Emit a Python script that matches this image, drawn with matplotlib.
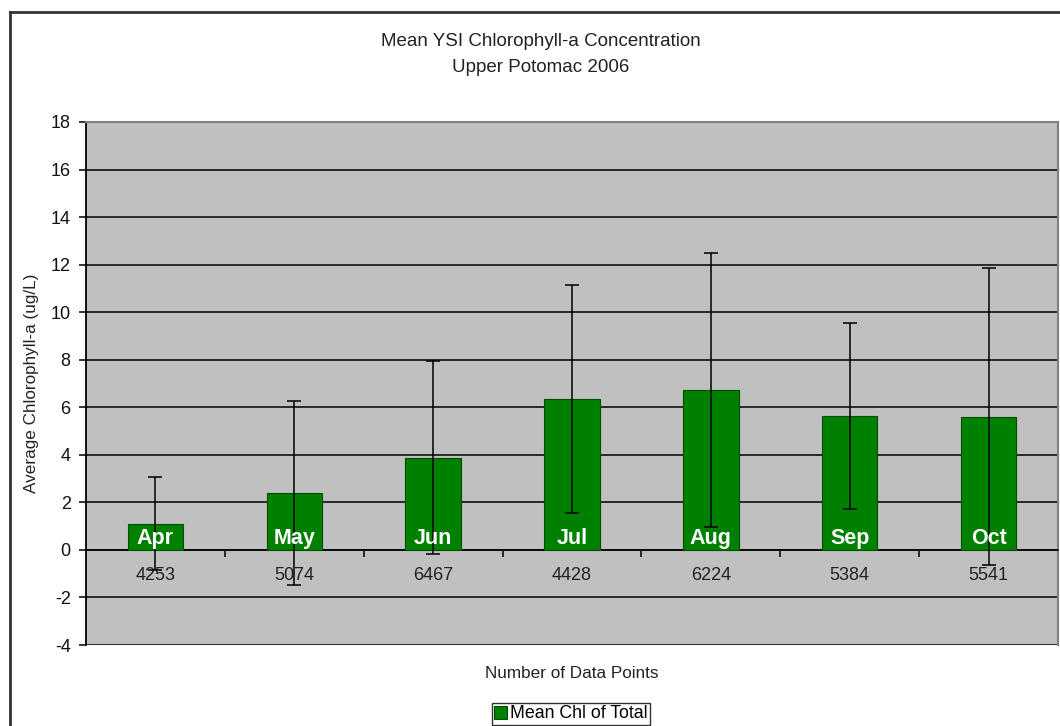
import numpy as np
import matplotlib.pyplot as plt
from matplotlib.lines import Line2D
from matplotlib.ticker import FixedLocator, NullFormatter

plt.rcParams['font.family'] = ['Liberation Sans', 'DejaVu Sans']
plt.rcParams['axes.unicode_minus'] = False

months = ["Apr", "May", "Jun", "Jul", "Aug", "Sep", "Oct"]
n_points = ["4253", "5074", "6467", "4428", "6224", "5384", "5541"]
mean_chl = [1.1, 2.4, 3.88, 6.35, 6.73, 5.63, 5.6]
sd_chl = [1.95, 3.87, 4.05, 4.8, 5.78, 3.9, 6.25]

fig = plt.figure(figsize=(10.6, 7.26), dpi=100)
ax = fig.add_axes([86 / 1060, 1 - 645 / 726, 972 / 1060, 523 / 726])
ax.set_facecolor("#c0c0c0")

x = np.arange(len(months))
ax.bar(x, mean_chl, width=0.4, color="#008000", edgecolor="#004d00",
       linewidth=0.8, label="Mean Chl of Total", zorder=3)
ax.errorbar(x, mean_chl, yerr=sd_chl, fmt="none", ecolor="black",
            elinewidth=1.1, capsize=5, capthick=1.1, zorder=4)

for xi, m in zip(x, months):
    ax.text(xi, 0.5, m, ha="center", va="center", color="white",
            fontsize=15.5, fontweight="bold", zorder=5)

ax.set_xlim(-0.5, len(months) - 0.5)
ax.set_ylim(-4, 18)
ax.set_yticks(np.arange(-4, 19, 2))
ax.yaxis.grid(True, color="black", linewidth=1.1, zorder=1)
ax.set_axisbelow(True)
ax.tick_params(axis="y", labelsize=13, length=5, width=1.1, pad=6, labelcolor="#111111")

# category axis crosses at zero
ax.spines["bottom"].set_position(("data", 0))
ax.spines["bottom"].set_linewidth(1.1)
ax.spines["left"].set_linewidth(1.3)
for s in ["top", "right"]:
    ax.spines[s].set_color("#808080")
    ax.spines[s].set_linewidth(1.5)
ax.xaxis.set_major_locator(FixedLocator(np.arange(0.5, len(months) - 0.5, 1)))
ax.xaxis.set_major_formatter(NullFormatter())
ax.xaxis.set_minor_locator(FixedLocator(x))
ax.set_xticklabels(n_points, minor=True)
ax.tick_params(axis="x", which="major", length=5, width=1.1, direction="out")
ax.tick_params(axis="x", which="minor", length=0, labelsize=13, pad=12, labelcolor="#222222")

ax.set_ylabel("Average Chlorophyll-a (ug/L)", fontsize=12.3, color="#222222", labelpad=8)
fig.text(0.539, 1 - 673 / 726, "Number of Data Points", ha="center", va="center",
         fontsize=12.3, color="#222222")
fig.text(0.510, 1 - 42 / 726, "Mean YSI Chlorophyll-a Concentration", ha="center",
         va="center", fontsize=13.5, color="#222222")
fig.text(0.510, 1 - 68 / 726, "Upper Potomac 2006", ha="center", va="center",
         fontsize=13.5, color="#222222")

leg = fig.legend(loc="center", bbox_to_anchor=(571 / 1060, 1 - 714 / 726),
                 fontsize=12.8, frameon=True, fancybox=False, edgecolor="black",
                 handlelength=0.7, handleheight=0.7, handletextpad=0.2,
                 borderpad=0.15, borderaxespad=0)
leg.get_frame().set_linewidth(1.0)

# outer chart border
fig.add_artist(Line2D([9.5 / 1060, 9.5 / 1060], [0, 1 - 11.5 / 726],
                      transform=fig.transFigure, color="#333333", linewidth=2))
fig.add_artist(Line2D([9.5 / 1060, 1], [1 - 11.5 / 726, 1 - 11.5 / 726],
                      transform=fig.transFigure, color="#333333", linewidth=2))

fig.savefig("out.png", dpi=100)
